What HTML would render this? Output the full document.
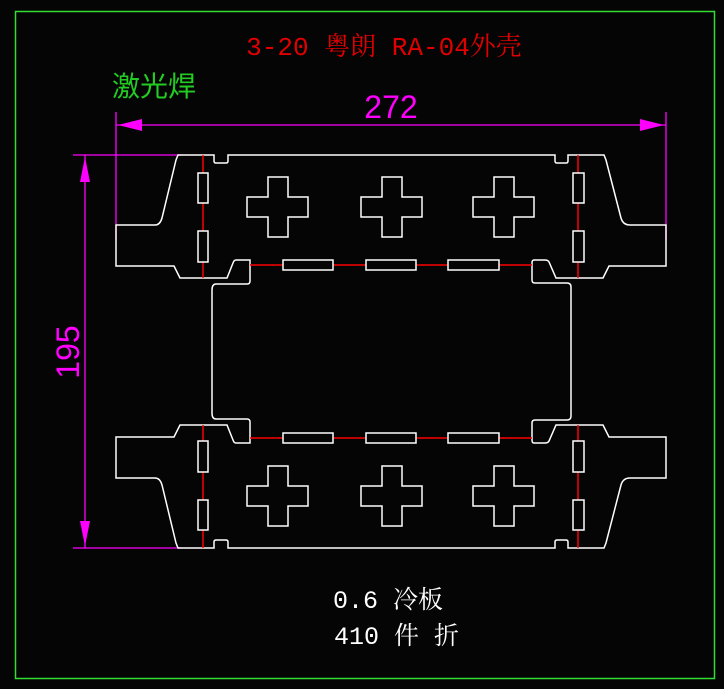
<!DOCTYPE html>
<html><head><meta charset="utf-8"><style>
html,body{margin:0;padding:0;background:#000;}
svg{display:block}
</style></head><body>
<svg width="724" height="689" viewBox="0 0 724 689" xmlns="http://www.w3.org/2000/svg">
<rect x="0" y="0" width="724" height="689" fill="#050505"/>
<rect x="15.5" y="11.5" width="699" height="667" fill="none" stroke="#33dd33" stroke-width="1.5"/>

<text x="384" y="55" fill="#e00000" font-family="Liberation Mono, Noto Serif CJK SC, monospace" font-size="26" text-anchor="middle">3-20 粤朗 RA-04外壳</text>
<text x="112" y="96" fill="#22cc22" font-family="Liberation Sans, Noto Sans CJK SC, sans-serif" font-size="28">激光焊</text>
<text x="333" y="608" fill="#fff" font-family="Liberation Mono, Noto Serif CJK SC, monospace" font-size="25">0.6 冷板</text>
<text x="334" y="644" fill="#fff" font-family="Liberation Mono, Noto Serif CJK SC, monospace" font-size="25">410 件 折</text>

<g stroke="#ff00ff" stroke-width="1.3" fill="none">
<line x1="116" y1="112" x2="116" y2="240"/>
<line x1="666" y1="112" x2="666" y2="240"/>
<line x1="116" y1="125" x2="666" y2="125"/>
<line x1="73" y1="155" x2="182" y2="155"/>
<line x1="73" y1="548" x2="182" y2="548"/>
<line x1="85" y1="155" x2="85" y2="548"/>
</g>
<g fill="#ff00ff">
<polygon points="118,125 142,119 142,131"/>
<polygon points="664,125 640,119 640,131"/>
<polygon points="85,157 80,182 90,182"/>
<polygon points="85,546 80,521 90,521"/>
</g>
<text x="391" y="118" fill="#ff00ff" font-family="Liberation Sans, sans-serif" font-size="32" text-anchor="middle">272</text>
<text transform="translate(79,352) rotate(-90)" fill="#ff00ff" font-family="Liberation Sans, sans-serif" font-size="32" text-anchor="middle">195</text>

<defs>
<path id="outline" d="M212,290 Q212,284 216,284 L247,284 Q250,284 250,281 L250,260 L236,260 Q234,260 233,263 L227,278 L180,278 L174,266 L116,266 L116,225 L155,225 Q160,225 162,218 L176,160 L178,155 L214,155 L214,161 Q214,163 216,163 L226,163 Q228,163 228,161 L228,155 L555,155 L555,161 Q555,163 557,163 L566,163 Q568,163 568,161 L568,155 L604,155 L606,160 L621,218 Q623,225 630,225 L666,225 L666,266 L609,266 L603,278 L556,278 L549,262 Q548,260 545,260 L534,260 Q532,260 532,263 L532,280 Q532,283 535,283 L567,283 Q571,283 571,287 L571,290"/>
<g id="holes">
<rect x="198" y="173" width="10" height="30"/>
<rect x="198" y="231" width="10" height="31"/>
<rect x="573" y="173" width="11" height="30"/>
<rect x="573" y="231" width="11" height="31"/>
<rect x="283" y="260" width="50" height="10"/>
<rect x="366" y="260" width="50" height="10"/>
<rect x="448" y="260" width="51" height="10"/>
<path d="M268,177 L288,177 L288,197 L308,197 L308,217 L288,217 L288,237 L268,237 L268,217 L247,217 L247,197 L268,197 Z"/>
<path d="M268,177 L288,177 L288,197 L308,197 L308,217 L288,217 L288,237 L268,237 L268,217 L247,217 L247,197 L268,197 Z" transform="translate(114,0)"/>
<path d="M268,177 L288,177 L288,197 L308,197 L308,217 L288,217 L288,237 L268,237 L268,217 L247,217 L247,197 L268,197 Z" transform="translate(226,0)"/>
</g>
</defs>
<g stroke="#fff" stroke-width="1.5" fill="none">
<use href="#outline"/>
<use href="#outline" transform="matrix(1,0,0,-1,0,703)"/>
<line x1="212" y1="290" x2="212" y2="413"/>
<line x1="571" y1="290" x2="571" y2="413"/>
</g>

<g stroke="#ff0000" stroke-width="1.5">
<line x1="203" y1="155" x2="203" y2="278"/>
<line x1="578" y1="155" x2="578" y2="278"/>
<line x1="250" y1="265" x2="532" y2="265"/>
<line x1="203" y1="425" x2="203" y2="548"/>
<line x1="578" y1="425" x2="578" y2="548"/>
<line x1="250" y1="438" x2="532" y2="438"/>
</g>

<g stroke="#fff" stroke-width="1.5" fill="#050505">
<use href="#holes"/>
<use href="#holes" transform="matrix(1,0,0,-1,0,703)"/>
</g>
</svg>
</body></html>
